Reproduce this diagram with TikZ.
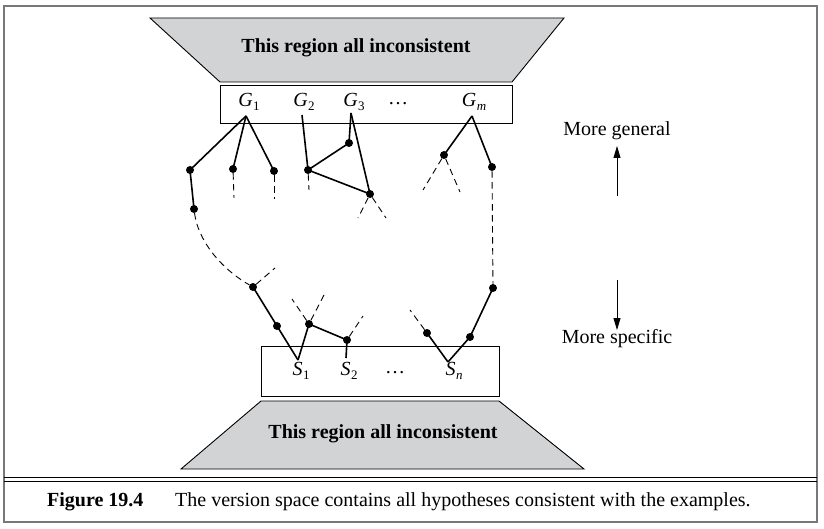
\documentclass[tikz,border=0pt]{standalone}
\usepackage{fontspec}
\setmainfont{Liberation Serif}
\usetikzlibrary{arrows.meta}
\definecolor{regiongray}{RGB}{210,211,213}
\definecolor{framegray}{RGB}{120,120,120}
\newcommand{\hypo}[2]{\textit{#1}\kern0.5pt{\fontsize{13}{13}\selectfont\raisebox{-3.5pt}{#2}}}
\begin{document}
\begin{tikzpicture}[x=1pt,y=-1pt,
  dot/.style={circle,fill=black,inner sep=0pt,minimum size=8pt},
  treeline/.style={line width=1.6pt},
  dashline/.style={line width=0.9pt,dash pattern=on 6.5pt off 4.5pt},
  region/.style={fill=regiongray,draw=black,line width=0.9pt},
  setbox/.style={draw=black,line width=0.9pt,fill=white,inner sep=0pt},
  lbl/.style={font=\fontsize{20}{24}\selectfont,inner sep=0pt},
  boldlbl/.style={font=\fontsize{20}{24}\selectfont\bfseries,inner sep=0pt},
  arr/.style={line width=0.9pt,-{Triangle[length=12pt,width=7pt]}}]
\useasboundingbox (0,0) rectangle (824,529);
% frame
\draw[framegray,line width=1.6pt] (4,6) rectangle (817,522);
\draw[line width=0.9pt] (4,477) -- (817,477);
\draw[line width=0.9pt] (4,481) -- (817,481);
% regions
\path[region] (150,18) -- (564,18) -- (512,82) -- (220,82) -- cycle;
\node[boldlbl] (topregion) at (356,48) {This region all inconsistent};
\path[region] (261,401) -- (499,401) -- (584,469) -- (181,469) -- cycle;
\node[boldlbl] (botregion) at (383,434) {This region all inconsistent};
% boundary sets
\node[setbox,minimum width=292pt,minimum height=38pt] (Gbox) at (366,104) {};
\node[setbox,minimum width=238pt,minimum height=50pt] (Sbox) at (380,371) {};
\node[lbl] (G1) at (249,102) {\hypo{G}{1}};
\node[lbl] (G2) at (304,102) {\hypo{G}{2}};
\node[lbl] (G3) at (354,102) {\hypo{G}{3}};
\node[lbl] (Gdots) at (398,104) {\dots};
\node[lbl] (Gm) at (474,102) {\hypo{G}{\textit{m}}};
\node[lbl] (S1) at (301,371) {\hypo{S}{1}};
\node[lbl] (S2) at (349,371) {\hypo{S}{2}};
\node[lbl] (Sdots) at (395,373) {\dots};
\node[lbl] (Sn) at (454,371) {\hypo{S}{\textit{n}}};
% apex points
\coordinate (g1) at (246,116);
\coordinate (g2) at (302,115);
\coordinate (g3) at (351,113);
\coordinate (gm) at (472,116);
\coordinate (s1) at (298,360);
\coordinate (s2) at (346,358);
\coordinate (sn) at (448,362);
% dots
\node[dot] (a) at (190,170) {};
\node[dot] (b) at (233,169) {};
\node[dot] (c) at (274,171) {};
\node[dot] (a2) at (194,209) {};
\node[dot] (d) at (308,170) {};
\node[dot] (e) at (349,143) {};
\node[dot] (f) at (370,194) {};
\node[dot] (g) at (253,287) {};
\node[dot] (h) at (277,326) {};
\node[dot] (i) at (309,324) {};
\node[dot] (j) at (347,340) {};
\node[dot] (k) at (427,333) {};
\node[dot] (l) at (470,337) {};
\node[dot] (m) at (493,288) {};
\node[dot] (n) at (492,167) {};
\node[dot] (o) at (444,155) {};
% dashed free ends
\coordinate (bx) at (234,198);
\coordinate (cx) at (274,199);
\coordinate (dx) at (309,190);
\coordinate (fl) at (358,218);
\coordinate (fr) at (386,218);
\coordinate (ol) at (423,190);
\coordinate (or) at (460,192);
\coordinate (gr) at (275,268);
\coordinate (il) at (292,299);
\coordinate (ir) at (324,295);
\coordinate (jr) at (363,316);
\coordinate (kl) at (410,310);
% solid edges
\draw[treeline] (g1) -- (a.center);
\draw[treeline] (g1) -- (b.center);
\draw[treeline] (g1) -- (c.center);
\draw[treeline] (a.center) -- (a2.center);
\draw[treeline] (g2) -- (d.center);
\draw[treeline] (g3) -- (e.center);
\draw[treeline] (g3) -- (f.center);
\draw[treeline] (d.center) -- (e.center);
\draw[treeline] (d.center) -- (f.center);
\draw[treeline] (gm) -- (o.center);
\draw[treeline] (gm) -- (n.center);
\draw[treeline] (g.center) -- (h.center);
\draw[treeline] (h.center) -- (s1);
\draw[treeline] (s1) -- (i.center);
\draw[treeline] (i.center) -- (j.center);
\draw[treeline] (j.center) -- (s2);
\draw[treeline] (k.center) -- (sn);
\draw[treeline] (sn) -- (l.center);
\draw[treeline] (l.center) -- (m.center);
% dashed edges
\draw[dashline] (b) -- (bx);
\draw[dashline] (c) -- (cx);
\draw[dashline] (d) -- (dx);
\draw[dashline] (f) -- (fl);
\draw[dashline] (f) -- (fr);
\draw[dashline] (o) -- (ol);
\draw[dashline] (o) -- (or);
\draw[dashline] (n) -- (m);
\draw[dashline] (a2) .. controls (198,240) and (220,268) .. (g);
\draw[dashline] (g) -- (gr);
\draw[dashline] (i) -- (il);
\draw[dashline] (i) -- (ir);
\draw[dashline] (j) -- (jr);
\draw[dashline] (k) -- (kl);
% direction labels
\node[lbl] (general) at (617,131) {More general};
\node[lbl] (specific) at (617,339) {More specific};
\coordinate (upfrom) at (617,196);
\coordinate (upto) at (617,146);
\coordinate (downfrom) at (617,280);
\coordinate (downto) at (617,330);
\draw[arr] (upfrom) -- (upto);
\draw[arr] (downfrom) -- (downto);
% caption
\node[lbl,font=\fontsize{20}{24}\selectfont\bfseries,anchor=west] (fignum) at (47,502) {Figure 19.4};
\node[lbl,anchor=west] (caption) at (175,502) {The version space contains all hypotheses consistent with the examples.};
\end{tikzpicture}
\end{document}
